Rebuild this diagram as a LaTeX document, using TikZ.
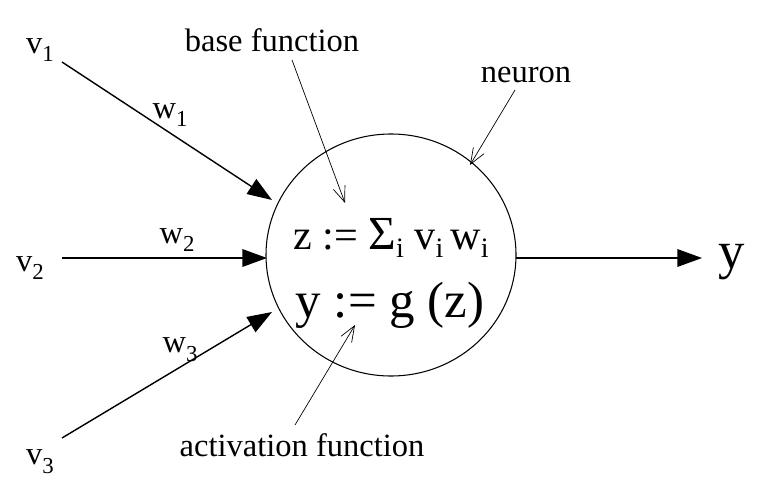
\documentclass[tikz,border=0pt]{standalone}
\usepackage{fontspec}
\setmainfont{Liberation Serif}
\usetikzlibrary{arrows.meta,calc}

\tikzset{
  input/.style={-{Triangle[length=14pt,width=10pt]},line width=0.8pt},
  pointer/.style={-{Straight Barb[open,length=9pt,width=7pt]},line width=0.4pt},
  lbl/.style={font=\fontsize{18.5}{20}\selectfont,inner sep=0pt},
}
\newcommand{\sbs}[1]{\raisebox{-5pt}{\fontsize{13}{14}\selectfont #1}}

\begin{document}
\begin{tikzpicture}[x=0.02cm,y=-0.02cm]
\useasboundingbox (0,0) rectangle (766,493);

% neuron
\draw[line width=0.6pt] (391,255) ellipse [x radius=125,y radius=121];
\coordinate (neuron) at (391,255);

\node[inner sep=0pt,font=\fontsize{24}{26}\selectfont] (base) at (391,238) {z := {\fontsize{27}{28}\selectfont Σ}\raisebox{-5pt}{\fontsize{16}{17}\selectfont i} v\raisebox{-5pt}{\fontsize{16}{17}\selectfont i}\,w\raisebox{-5pt}{\fontsize{16}{17}\selectfont i}};
\node[inner sep=0pt,font=\fontsize{29}{31}\selectfont] (act) at (390,305) {y := g (z)};

% inputs
\node[lbl] (v1) at (40,50) {v\sbs{1}};
\node[lbl] (v2) at (30,268) {v\sbs{2}};
\node[lbl] (v3) at (40,462) {v\sbs{3}};
\coordinate (in1) at (272,200);
\coordinate (in2) at (267,258);
\coordinate (in3) at (272,312);
\draw[input] (62,62) -- (in1);
\draw[input] (62,258) -- (in2);
\draw[input] (62,438) -- (in3);
\node[lbl] (w1) at (170,115) {w\sbs{1}};
\node[lbl] (w2) at (177,240) {w\sbs{2}};
\node[lbl] (w3) at (180,350) {w\sbs{3}};

% output
\coordinate (out0) at (516,258);
\node[inner sep=0pt,font=\fontsize{30}{32}\selectfont] (y) at (732,262) {y};
\draw[input] (out0) -- (702,258);

% annotations
\node[lbl] (lbase) at (272,40) {base function};
\node[lbl] (lneuron) at (526,75) {neuron};
\node[lbl] (lact) at (302,445) {activation function};
\draw[pointer] (292,60) -- (345,203);
\draw[pointer] (515,90) -- (470,165);
\draw[pointer] (295,425) -- (355,325);
\end{tikzpicture}
\end{document}
